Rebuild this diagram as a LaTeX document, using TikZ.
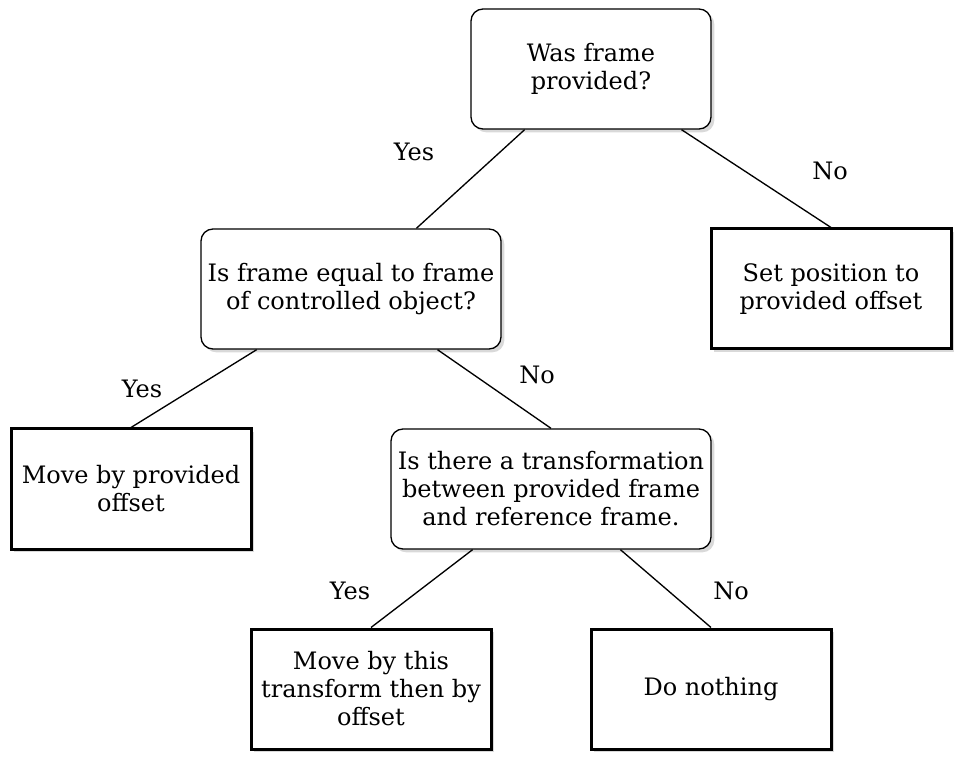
\documentclass[tikz,border=0pt]{standalone}
\usepackage{fontspec}
\setmainfont{DejaVu Serif}
\usetikzlibrary{shadows,calc}
\begin{document}
\begin{tikzpicture}[x=0.75pt,y=-0.75pt,
  every node/.style={font=\fontsize{18}{21}\selectfont},
  decision/.style={draw=black,line width=1pt,rounded corners=9pt,fill=white,align=center,inner sep=0pt,
    drop shadow={opacity=0.3,shadow xshift=2.5pt,shadow yshift=-2.5pt}},
  action/.style={draw=black,line width=2.25pt,fill=white,align=center,inner sep=0pt,
    drop shadow={opacity=0.3,shadow xshift=2.5pt,shadow yshift=-2.5pt}},
  edge/.style={draw=black,line width=1pt},
  lbl/.style={inner sep=0pt}]
\useasboundingbox (0,0) rectangle (964,766);
\node[decision,minimum width=180pt,minimum height=90pt] (A) at (591,69) {Was frame\\provided?};
\node[decision,minimum width=225pt,minimum height=90pt] (B) at (351,289) {Is frame equal to frame\\of controlled object?};
\node[action,minimum width=180pt,minimum height=90pt] (C) at (831,289) {Set position to\\provided offset};
\node[action,minimum width=180pt,minimum height=90pt] (D) at (131,489) {Move by provided\\offset};
\node[decision,minimum width=240pt,minimum height=90pt] (E) at (551,489) {Is there a transformation\\between provided frame\\and reference frame.};
\node[action,minimum width=180pt,minimum height=90pt] (F) at (371,689) {Move by this\\transform then by\\offset};
\node[action,minimum width=180pt,minimum height=90pt] (G) at (711,689) {Do nothing};
\draw[edge] ($(A.south west)!0.225!(A.south east)$) -- ($(B.north west)!0.717!(B.north east)$);
\draw[edge] ($(A.south west)!0.875!(A.south east)$) -- (C.north);
\draw[edge] ($(B.south west)!0.187!(B.south east)$) -- (D.north);
\draw[edge] ($(B.south west)!0.787!(B.south east)$) -- (E.north);
\draw[edge] ($(E.south west)!0.256!(E.south east)$) -- (F.north);
\draw[edge] ($(E.south west)!0.716!(E.south east)$) -- (G.north);
\node[lbl] (l1) at (414,152) {Yes};
\node[lbl] (l2) at (830,171) {No};
\node[lbl] (l3) at (142,389) {Yes};
\node[lbl] (l4) at (537,375) {No};
\node[lbl] (l5) at (350,591) {Yes};
\node[lbl] (l6) at (731,591) {No};
\end{tikzpicture}
\end{document}
